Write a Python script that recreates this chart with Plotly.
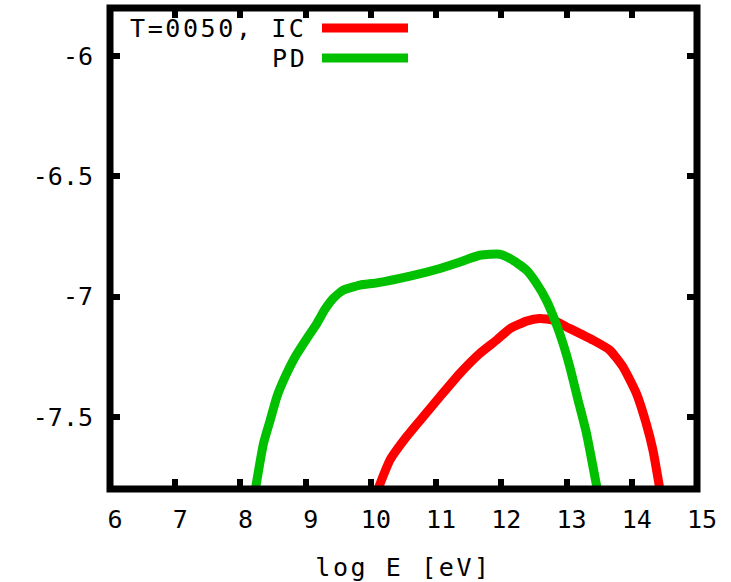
import plotly.graph_objects as go

# ---- data ----
ic_x = [10.11, 10.294, 10.549, 10.803, 11.059, 11.365, 11.671, 11.927, 12.13, 12.386, 12.59, 12.793,
        13.0, 13.405, 13.66, 13.865, 14.07, 14.22, 14.324, 14.43]
ic_y = [-7.80, -7.679, -7.582, -7.499, -7.416, -7.319, -7.236, -7.181, -7.134, -7.102, -7.091, -7.098,
        -7.126, -7.181, -7.222, -7.292, -7.402, -7.527, -7.638, -7.80]

pd_x = [8.23, 8.354, 8.457, 8.559, 8.686, 8.84, 9.018, 9.171, 9.298, 9.426, 9.579, 9.834, 10.09,
        10.6, 11.059, 11.365, 11.671, 11.977, 12.18, 12.386, 12.54, 12.69, 12.82, 12.946,
        13.05, 13.176, 13.305, 13.47]
pd_y = [-7.80, -7.61, -7.513, -7.416, -7.333, -7.25, -7.174, -7.112, -7.052, -7.006, -6.973, -6.952, -6.943,
        -6.915, -6.883, -6.856, -6.828, -6.824, -6.849, -6.89, -6.945, -7.015, -7.098, -7.195,
        -7.292, -7.43, -7.568, -7.80]

x_ticks = [6, 7, 8, 9, 10, 11, 12, 13, 14, 15]
y_ticks = [-7.5, -7, -6.5, -6]
y_ticktext = ["-7.5", "-7", "-6.5", "-6"]

RED = "#ff0000"
GREEN = "#00c000"
FONT = "DejaVu Sans Mono"

W, H = 731, 582
L, T, R, B = 110, 8, 34, 93

def spaced(s, sp=2.6):
    return '<span style="letter-spacing:%.1fpx">%s</span>' % (sp, s)

fig = go.Figure()
fig.add_trace(go.Scatter(x=ic_x, y=ic_y, mode="lines", line=dict(color=RED, width=9, shape="spline", smoothing=0.5), showlegend=False))
fig.add_trace(go.Scatter(x=pd_x, y=pd_y, mode="lines", line=dict(color=GREEN, width=9, shape="spline", smoothing=0.5), showlegend=False))

axis_common = dict(
    showline=False, mirror="ticks",
    ticks="inside", ticklen=10, tickwidth=6, tickcolor="black",
    showgrid=False, zeroline=False, automargin=False,
    tickfont=dict(family=FONT, size=25, color="black"),
)

fig.update_xaxes(range=[6, 15], tickvals=x_ticks, ticktext=[str(v) for v in x_ticks],
                 title=dict(text=spaced("log E [eV]"), font=dict(family=FONT, size=25, color="black"), standoff=25),
                 ticklabelshift=5, ticklabelstandoff=13, **axis_common)
fig.update_yaxes(range=[-7.8, -5.8], tickvals=y_ticks, ticktext=y_ticktext,
                 ticklabelstandoff=16, **axis_common)

# border (gnuplot style frame, centred on the plot edges)
fig.add_shape(type="rect", xref="paper", yref="paper", x0=0, x1=1, y0=0, y1=1,
              line=dict(color="black", width=7), layer="above")

pw = W - L - R
ph = H - T - B
def px(x):
    return (x - L) / pw
def py(y):
    return 1 - (y - T) / ph

legend_rows = [("T=0050, IC", RED, 28), ("PD", GREEN, 58)]
for text, col, yy in legend_rows:
    fig.add_annotation(x=px(309), y=py(yy), xref="paper", yref="paper", text=spaced(text),
                       showarrow=False, xanchor="right", yanchor="middle",
                       font=dict(family=FONT, size=25, color="black"))
    fig.add_shape(type="line", xref="paper", yref="paper", x0=px(322), x1=px(408),
                  y0=py(yy), y1=py(yy), line=dict(color=col, width=9))

fig.update_layout(width=W, height=H, margin=dict(l=L, r=R, t=T, b=B),
                  paper_bgcolor="white", plot_bgcolor="white", showlegend=False)

fig.write_html("out.html")
